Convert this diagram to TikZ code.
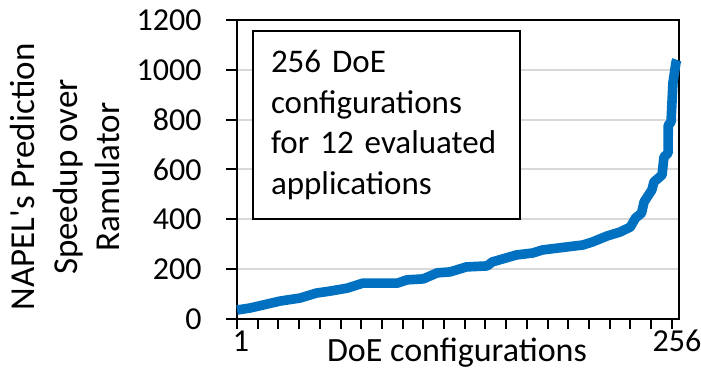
\documentclass[tikz,border=0pt]{standalone}
\usepackage{fontspec}
\setmainfont{Carlito}[Ligatures=TeXOff]
\definecolor{xlblue}{RGB}{0,112,192}
\definecolor{gridgray}{RGB}{217,217,217}
\tikzset{
  gridline/.style={gridgray,line width=1pt},
  frameline/.style={black,line width=1pt},
  speedline/.style={xlblue,line width=4.8pt,line join=round},
  ticklab/.style={font=\fontsize{16}{19}\selectfont,inner sep=0pt},
  axtitle/.style={font=\fontsize{17}{21.25}\selectfont,align=center,inner sep=0pt},
  notebox/.style={draw,line width=1pt,fill=white,text width=115.5pt,inner xsep=9pt,
    minimum height=94pt,align=left,font=\fontsize{16.5}{20.25}\selectfont}
}
\begin{document}
\begin{tikzpicture}[x=0.5pt,y=-0.5pt]
\useasboundingbox (0,0) rectangle (701,373);
% plot area: categories 1..256 across, speedup 0..1200 up
\begin{scope}[shift={(235.275,319)},x=0.8625pt,y=0.124583pt]
\foreach \v in {200,400,...,1000}
  \draw[gridline] (1,\v) -- (257.2,\v);
\draw[frameline] (1,0) rectangle (257.2,1200);
\foreach \v in {0,200,...,1200} {
  \draw[frameline] (-5.4,\v) -- (1,\v);
  \node[ticklab,anchor=east] (y\v) at (-19.3,\v) {\v};
}
\foreach \k in {0,...,21}
  \draw[frameline] ({1+12*\k},0) -- ({1+12*\k},-40);
\draw[speedline] (1,36) -- (8.5,44) -- (16,56) -- (26,72) -- (37.5,84) -- (47,104)
  -- (55,112) -- (65,124) -- (74,144) -- (94,144) -- (99.5,157) -- (109,161)
  -- (117,185) -- (124.5,189) -- (134,209) -- (146,213) -- (149,229) -- (163,257)
  -- (172.5,265) -- (178,277) -- (192,289) -- (201.5,297) -- (207,309) -- (215.5,333)
  -- (223,349) -- (229,369) -- (232,405) -- (235.5,425) -- (237,470) -- (241.5,518)
  -- (242.7,550) -- (247.4,578) -- (248.5,650) -- (250.9,666) -- (251,778)
  -- (252.6,790) -- (253.7,947) -- (255.5,1031) -- (256,1040);
\end{scope}
\node[ticklab,anchor=base] (xmin) at (241,352) {1};
\node[ticklab,anchor=base] (xmax) at (677,352) {256};
\node[axtitle,anchor=base] (xtitle) at (457,362) {DoE configurations};
\node[axtitle,rotate=90,font=\fontsize{17.5}{21.25}\selectfont] (ytitle) at (65,177)
  {NAPEL's Prediction\\Speedup over\\Ramulator};
\node[notebox,anchor=north west] (note) at (252,30)
  {256 DoE\\configurations\\for 12 evaluated\\applications};
\end{tikzpicture}
\end{document}
